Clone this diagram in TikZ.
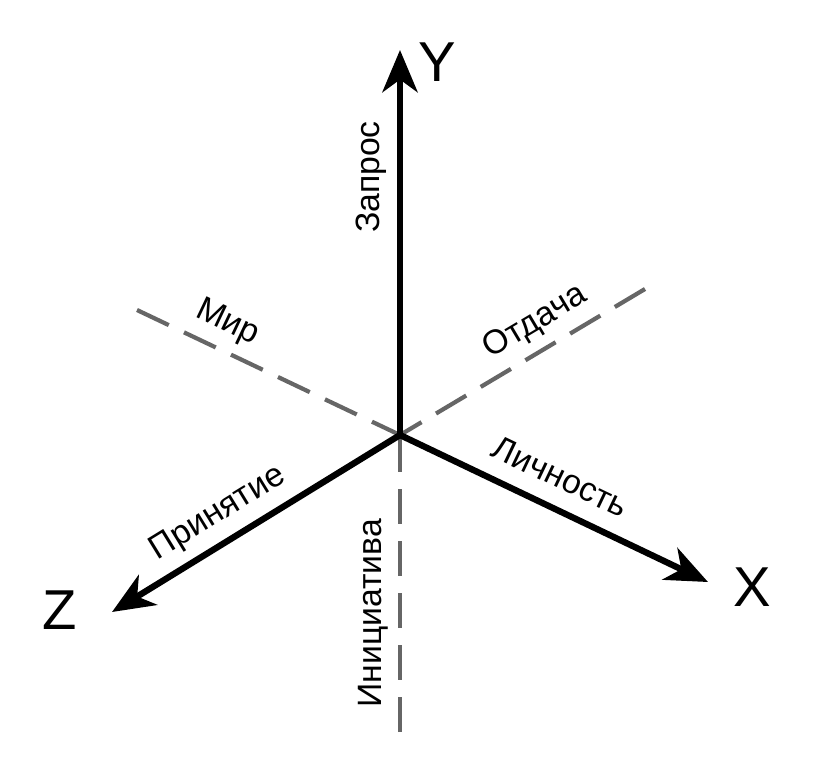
\documentclass[tikz,border=0pt]{standalone}
\usepackage{fontspec}
\setmainfont{Liberation Sans}
\usetikzlibrary{arrows.meta}

\tikzset{
    axis/.style={line width=4.5pt, -{Stealth[length=30pt,width=25pt,inset=9pt]}},
    halfaxis/.style={line width=3pt, draw=black!60, dash pattern=on 25pt off 12pt},
    axislabel/.style={font=\fontsize{24}{28}\selectfont, sloped, above=10pt, inner sep=0pt,
        text height=0.72em, text depth=0.2em},
    axisname/.style={font=\fontsize{40}{44}\selectfont, inner sep=0pt}
}

\begin{document}
\begin{tikzpicture}[x=0.025cm, y=0.025cm]
    \useasboundingbox (-400,-342) rectangle (413,435);
    \coordinate (O) at (0,0);
    \coordinate (Yend) at (0,385);
    \coordinate (Xend) at (308,-147);
    \coordinate (Zend) at (-288,-177);
    \coordinate (mir) at (-263,125);
    \coordinate (otdacha) at (245,146);
    \coordinate (init) at (0,-297);

    \draw[halfaxis] (mir) -- (O) node[axislabel, pos=0.3] (lblMir) {Мир};
    \draw[halfaxis] (otdacha) -- (O) node[axislabel, pos=0.39] (lblOtdacha) {Отдача};
    \draw[halfaxis] (init) -- (O) node[axislabel, pos=0.4] (lblInit) {Инициатива};

    \draw[axis] (O) -- (Yend) node[axislabel, pos=0.67] (lblZapros) {Запрос};
    \draw[axis] (O) -- (Xend) node[axislabel, pos=0.476] (lblLichnost) {Личность};
    \draw[axis] (O) -- (Zend) node[axislabel, pos=0.58] (lblPrinyatie) {Принятие};

    \node[axisname] (Y) at (37,373) {Y};
    \node[axisname] (X) at (352,-152) {X};
    \node[axisname] (Z) at (-340,-175) {Z};
\end{tikzpicture}
\end{document}
